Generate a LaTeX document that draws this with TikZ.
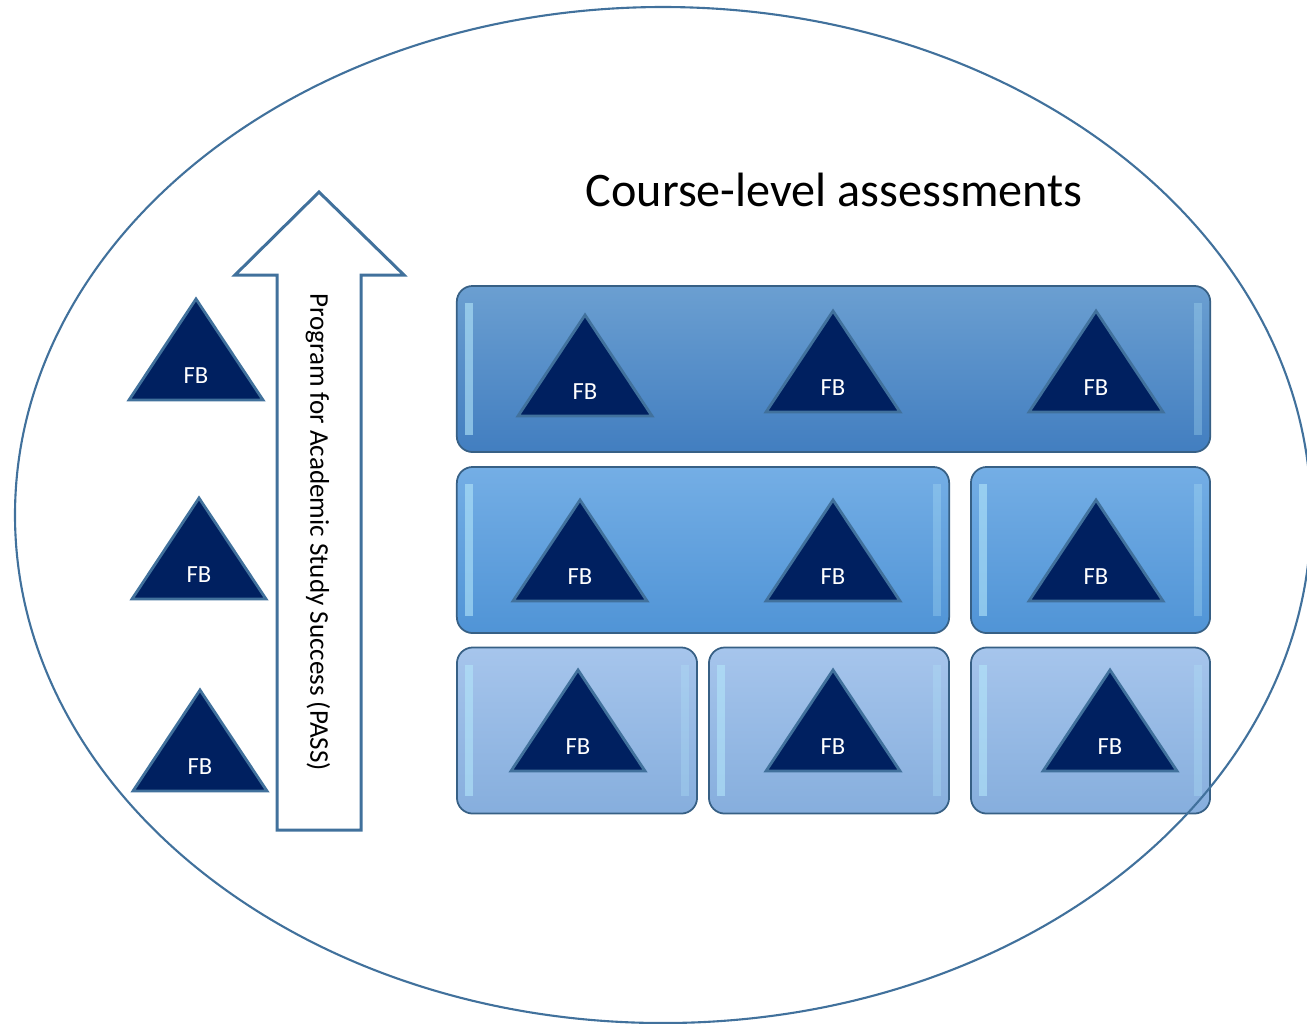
\documentclass[tikz,border=0pt]{standalone}
\usepackage{fontspec}
\setmainfont{Carlito}
\usetikzlibrary{positioning}
\definecolor{rimblue}{RGB}{65,113,156}
\definecolor{fbnavy}{RGB}{0,32,96}
\definecolor{topA}{RGB}{107,159,209}
\definecolor{topB}{RGB}{66,126,192}
\definecolor{midA}{RGB}{116,174,229}
\definecolor{midB}{RGB}{80,148,214}
\definecolor{lowA}{RGB}{166,197,236}
\definecolor{lowB}{RGB}{134,174,221}

\begin{document}
\begin{tikzpicture}[x=0.01cm,y=-0.01cm]

\tikzset{
  % rounded tiles of the course grid
  tile/.style={rounded corners=4.5pt, draw=rimblue!85!black, line width=0.5pt,
    minimum height=1.66cm, inner sep=0pt},
  tiletop/.style={tile, top color=topA, bottom color=topB},
  tilemid/.style={tile, top color=midA, bottom color=midB},
  tilelow/.style={tile, top color=lowA, bottom color=lowB},
  glint/.style={draw=white!70!cyan, line width=2.2pt, opacity=0.6},
  fbtri/.style={fill=fbnavy, draw=rimblue, line width=0.8pt, line join=miter},
  fblabel/.style={text=white, font=\fontsize{7}{8}\selectfont, inner sep=0pt},
  rimline/.style={draw=rimblue, line width=0.6pt},
}

\useasboundingbox (0,0) rectangle (1307,1023);
\clip (0,0) rectangle (1307,1023);

% course grid
\node[tiletop, minimum width=7.53cm] (top) at (833.5,369) {};
\node[tilemid, minimum width=4.92cm] (midl) at (703,550) {};
\node[tilemid, minimum width=2.39cm] (midr) at (1090.5,550) {};
\node[tilelow, minimum width=2.40cm] (lowa) at (577,730.5) {};
\node[tilelow, minimum width=2.40cm] (lowb) at (829,730.5) {};
\node[tilelow, minimum width=2.39cm] (lowc) at (1090.5,730.5) {};

\foreach \n in {top,midl,midr,lowa,lowb,lowc} {
  \draw[glint] ([xshift=0.13cm,yshift=-0.18cm]\n.north west) -- ([xshift=0.13cm,yshift=0.18cm]\n.south west);
  \draw[glint, opacity=0.3] ([xshift=-0.13cm,yshift=-0.18cm]\n.north east) -- ([xshift=-0.13cm,yshift=0.18cm]\n.south east);
}

% FB triangles
\foreach \n/\x/\y in {ta/585/315, tb/833/311, tc/1096/311,
    ma/580/500, mb/833/500, mc/1096/500,
    la/578/670, lb/833/670, lc/1110/670,
    sa/196/299, sb/199/498, sc/200/690} {
  \draw[fbtri] (\x,\y) -- ++(67,101) -- ++(-134,0) -- cycle;
  \node[fblabel] (\n) at (\x,\y+77) {FB};
}

% PASS arrow
\draw[rimline, fill=white, line width=0.85pt] (277,830) -- (277,275) -- (235,275) -- (319,192)
  -- (404,275) -- (361,275) -- (361,830) -- cycle;
\node[rotate=-90, font=\fontsize{7.7}{9}\selectfont] (pass) at (318,532) {Program for Academic Study Success (PASS)};

\node[font=\fontsize{13.7}{16}\selectfont] (title) at (834,190) {Course-level assessments};

% outer ellipse
\draw[rimline] (663,515) ellipse [x radius=648, y radius=508];

\end{tikzpicture}
\end{document}
